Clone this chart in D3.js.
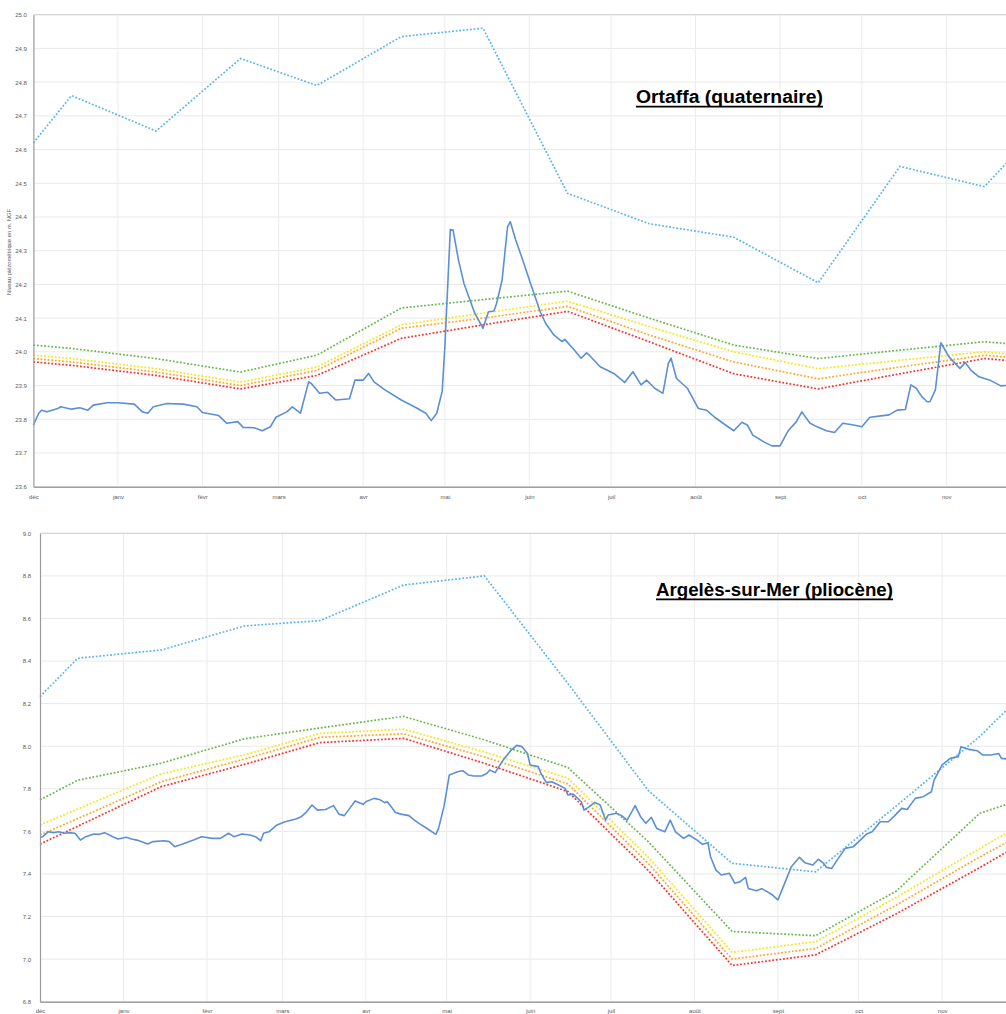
<!DOCTYPE html>
<html><head><meta charset="utf-8">
<script src="https://cdn.jsdelivr.net/npm/d3@7"></script>
<style>html,body{margin:0;padding:0;background:#fff;} svg{display:block;}</style>
</head><body>
<svg id="chart" width="1006" height="1014"></svg>
<script>
// ---------- DATA ----------
const monthLabels = ["janv","févr","mars","avr","mai","juin","juil","août","sept","oct","nov","déc"];
const refDates = ["2022-12-01","2022-12-15","2023-01-15","2023-02-15","2023-03-15","2023-04-15",
  "2023-05-15","2023-06-15","2023-07-15","2023-08-15","2023-09-15","2023-10-15","2023-11-15","2023-11-30"];

// Ortaffa (quaternaire) – reference curves (m NGF)
const ortaffaHigh   = [24.62, 24.76, 24.655, 24.87, 24.79, 24.935, 24.96, 24.47, 24.38, 24.34, 24.205, 24.55, 24.49, 24.62];
const ortaffaGreen  = [24.02, 24.01, 23.98, 23.94, 23.99, 24.13, 24.155, 24.18, 24.10, 24.02, 23.98, 24.005, 24.03, 24.02];
const ortaffaYellow = [23.99, 23.98, 23.95, 23.91, 23.955, 24.08, 24.115, 24.15, 24.075, 24.00, 23.95, 23.975, 24.00, 23.99];
const ortaffaOrange = [23.98, 23.97, 23.94, 23.90, 23.945, 24.07, 24.10, 24.135, 24.05, 23.97, 23.92, 23.955, 23.99, 23.98];
const ortaffaRed    = [23.97, 23.96, 23.93, 23.89, 23.93, 24.04, 24.08, 24.12, 24.03, 23.935, 23.89, 23.935, 23.98, 23.97];

// Ortaffa measured level: days since 1 Dec, value
const ortaffaDays = [0,2,3,5,9,10,14,17,20,22,27,31,37,40,42,44,49,55,60,62,68,71,75,77,81,84,87,89,93,95,98,101,102,105,108,111,116,118,121,123,125,129,135,141,144,146,148,150,151,153,154,156,158,162,165,167,169,170,172,174,175,177,180,182,186,188,191,194,195,198,201,203,204,208,213,216,217,220,223,225,228,231,233,234,236,240,242,244,247,250,254,257,260,262,264,268,271,274,277,280,282,285,288,291,294,297,301,304,307,311,314,317,320,322,324,326,328,329,331,333,336,340,342,344,347,351,355,357];
const ortaffaLevels = [23.783,23.818,23.827,23.822,23.832,23.837,23.830,23.834,23.827,23.842,23.849,23.849,23.845,23.822,23.818,23.837,23.847,23.845,23.837,23.820,23.811,23.788,23.793,23.776,23.775,23.766,23.778,23.806,23.822,23.837,23.818,23.911,23.906,23.877,23.880,23.857,23.861,23.916,23.916,23.936,23.911,23.887,23.857,23.832,23.818,23.796,23.818,23.882,24.015,24.363,24.361,24.272,24.203,24.114,24.070,24.119,24.121,24.144,24.213,24.371,24.386,24.332,24.262,24.213,24.119,24.084,24.050,24.030,24.037,24.010,23.981,23.997,23.990,23.956,23.936,23.916,23.909,23.941,23.902,23.916,23.892,23.877,23.966,23.981,23.921,23.892,23.862,23.832,23.827,23.806,23.783,23.766,23.791,23.783,23.753,23.733,23.721,23.721,23.766,23.793,23.822,23.788,23.776,23.766,23.761,23.788,23.783,23.778,23.806,23.810,23.813,23.827,23.829,23.902,23.892,23.867,23.852,23.852,23.887,24.027,23.985,23.951,23.968,23.946,23.926,23.916,23.899,23.900];

// Argelès-sur-Mer (pliocène) – reference curves
const argelesHigh   = [8.233, 8.413, 8.452, 8.565, 8.59, 8.757, 8.80, 8.295, 7.79, 7.45, 7.41, 7.72, 8.046, 8.233];
const argelesGreen  = [7.748, 7.84, 7.92, 8.035, 8.086, 8.14, 8.03, 7.90, 7.55, 7.13, 7.11, 7.32, 7.685, 7.748];
const argelesYellow = [7.63, 7.705, 7.87, 7.96, 8.06, 8.08, 7.973, 7.85, 7.477, 7.032, 7.082, 7.29, 7.52, 7.63];
const argelesOrange = [7.583, 7.66, 7.833, 7.94, 8.042, 8.058, 7.95, 7.823, 7.448, 7.00, 7.05, 7.254, 7.48, 7.583];
const argelesRed    = [7.54, 7.624, 7.81, 7.915, 8.017, 8.037, 7.92, 7.787, 7.415, 6.97, 7.02, 7.213, 7.43, 7.54];

const argelesDays = [0,1,3,5,7,9,11,13,15,17,20,22,24,27,29,32,34,36,40,42,46,48,50,53,57,60,64,67,70,72,75,78,80,82,83,85,88,91,95,97,99,101,103,106,109,111,113,115,117,120,121,124,126,128,129,132,134,137,139,141,144,147,148,150,152,155,157,159,161,164,166,167,169,172,175,177,179,181,182,185,186,188,190,192,195,196,198,201,202,204,206,208,210,211,214,216,218,221,223,225,227,229,232,234,236,239,241,244,246,248,249,251,253,256,258,260,262,263,266,268,270,272,274,275,277,279,282,284,287,289,291,292,294,296,299,302,304,307,309,312,315,317,320,322,325,328,331,332,335,338,341,342,345,348,350,353,356,357,359];
const argelesLevels = [7.572,7.575,7.598,7.594,7.598,7.591,7.594,7.591,7.559,7.575,7.588,7.586,7.594,7.575,7.564,7.572,7.564,7.559,7.541,7.552,7.556,7.552,7.528,7.541,7.559,7.575,7.567,7.567,7.591,7.575,7.588,7.583,7.575,7.556,7.591,7.598,7.630,7.645,7.658,7.669,7.692,7.724,7.700,7.703,7.721,7.681,7.674,7.708,7.743,7.727,7.739,7.755,7.750,7.735,7.739,7.689,7.681,7.674,7.653,7.635,7.611,7.586,7.614,7.716,7.865,7.880,7.885,7.865,7.860,7.860,7.873,7.888,7.876,7.935,7.982,8.004,7.998,7.966,7.912,7.904,7.873,7.829,7.833,7.821,7.802,7.771,7.775,7.739,7.700,7.716,7.736,7.724,7.653,7.677,7.685,7.674,7.653,7.721,7.669,7.638,7.666,7.614,7.598,7.653,7.598,7.567,7.583,7.559,7.539,7.547,7.481,7.418,7.395,7.403,7.356,7.364,7.384,7.332,7.321,7.331,7.317,7.301,7.278,7.309,7.371,7.434,7.478,7.453,7.442,7.469,7.450,7.431,7.426,7.465,7.520,7.528,7.552,7.588,7.598,7.645,7.645,7.669,7.708,7.703,7.755,7.763,7.786,7.841,7.912,7.943,7.951,7.998,7.985,7.979,7.959,7.959,7.966,7.943,7.940];

// ---------- DRAW ----------
const svg = d3.select("#chart");
const parse = d3.timeParse("%Y-%m-%d");
const start = parse("2022-12-01");
const end = parse("2023-12-01");
const refX = refDates.map(parse);
const colors = {high:"#57b5ee", green:"#66b84c", yellow:"#f5e614", orange:"#ffa625", red:"#f7302c", measured:"#5b8fd6"};

function drawPanel(cfg) {
  const g = svg.append("g");
  const x = d3.scaleTime().domain([start, end]).range([cfg.left, cfg.left + 365 * cfg.pxDay]);
  const y = d3.scaleLinear().domain(cfg.yDomain).range([cfg.bottom, cfg.top]);
  const yTicks = d3.range(cfg.yDomain[0], cfg.yDomain[1] + cfg.step / 2, cfg.step);
  const months = d3.timeMonth.range(start, end);

  // grid
  g.append("g").selectAll("line").data(yTicks).join("line")
    .attr("x1", cfg.left).attr("x2", 1006)
    .attr("y1", d => y(d)).attr("y2", d => y(d))
    .attr("stroke", "#e9e9e9").attr("stroke-width", 1);
  g.append("g").selectAll("line").data(months.slice(1)).join("line")
    .attr("x1", d => x(d)).attr("x2", d => x(d))
    .attr("y1", cfg.top).attr("y2", cfg.bottom)
    .attr("stroke", "#ececec").attr("stroke-width", 1);
  g.append("line").attr("x1", cfg.left).attr("x2", 1006).attr("y1", cfg.top).attr("y2", cfg.top)
    .attr("stroke", "#d6d6d6").attr("stroke-width", 1.2);

  const refLine = d3.line().x((d, i) => x(refX[i])).y(d => y(d));
  const series = [[cfg.green, colors.green], [cfg.yellow, colors.yellow], [cfg.orange, colors.orange], [cfg.red, colors.red], [cfg.high, colors.high]];
  series.forEach(([vals, col]) => {
    g.append("path").attr("d", refLine(vals)).attr("fill", "none")
      .attr("stroke", col).attr("stroke-width", 1.7).attr("stroke-dasharray", "1.8,1.8");
  });

  const mLine = d3.line().x((d, i) => x(d3.timeDay.offset(start, cfg.days[i]))).y(d => y(d));
  g.append("path").attr("d", mLine(cfg.levels)).attr("fill", "none")
    .attr("stroke", colors.measured).attr("stroke-width", 1.6).attr("stroke-linejoin", "round");

  // axes
  const yAxis = d3.axisLeft(y).tickValues(yTicks).tickFormat(d3.format(".1f")).tickSize(0).tickPadding(cfg.yPad);
  const ya = g.append("g").attr("transform", `translate(${cfg.left},0)`).call(yAxis);
  ya.select(".domain").attr("stroke", "#9a9a9a").attr("stroke-width", 1.2);
  ya.selectAll("text").attr("font-size", 6).attr("fill", "#595959").attr("font-family", "Liberation Sans, Arial, sans-serif");

  const xAxis = d3.axisBottom(x).tickValues(months).tickFormat(d => monthLabels[d.getMonth()]).tickSize(0).tickPadding(cfg.xPad);
  const xa = g.append("g").attr("transform", `translate(0,${cfg.bottom})`).call(xAxis);
  xa.select(".domain").attr("stroke", "#a0a0a0").attr("stroke-width", 1.5);
  xa.selectAll("text").attr("font-size", 6).attr("fill", "#595959").attr("font-family", "Liberation Sans, Arial, sans-serif");

  // title
  const t = g.append("text").attr("x", cfg.titleX).attr("y", cfg.titleY).attr("text-anchor", "middle")
    .attr("font-family", "Liberation Sans, Arial, sans-serif").attr("font-weight", "bold").attr("font-size", 18)
    .attr("fill", "#000").attr("textLength", cfg.titleW).attr("lengthAdjust", "spacingAndGlyphs").text(cfg.title);
  g.append("line").attr("x1", cfg.titleX - cfg.titleW / 2).attr("x2", cfg.titleX + cfg.titleW / 2)
    .attr("y1", cfg.titleY + 3.3).attr("y2", cfg.titleY + 3.3).attr("stroke", "#000").attr("stroke-width", 1.8);

  if (cfg.yTitle) {
    g.append("text").attr("transform", `translate(11,${cfg.yTitleY}) rotate(-90)`).attr("text-anchor", "middle")
      .attr("font-family", "Liberation Sans, Arial, sans-serif").attr("font-size", 5.8).attr("fill", "#595959")
      .text(cfg.yTitle);
  }
}

drawPanel({left: 33.4, pxDay: 2.725, top: 14.7, bottom: 486.7, yDomain: [23.6, 25.0], step: 0.1,
  yPad: 6.5, xPad: 8, high: ortaffaHigh, green: ortaffaGreen, yellow: ortaffaYellow, orange: ortaffaOrange, red: ortaffaRed,
  days: ortaffaDays, levels: ortaffaLevels, title: "Ortaffa (quaternaire)", titleX: 729.5, titleY: 103.3, titleW: 187,
  yTitle: "Niveau piézométrique en m. NGF", yTitleY: 252});

drawPanel({left: 40, pxDay: 2.693, top: 533.3, bottom: 1001.7, yDomain: [6.8, 9.0], step: 0.2,
  yPad: 9, xPad: 7, high: argelesHigh, green: argelesGreen, yellow: argelesYellow, orange: argelesOrange, red: argelesRed,
  days: argelesDays, levels: argelesLevels, title: "Argelès-sur-Mer (pliocène)", titleX: 774.5, titleY: 596, titleW: 237});
</script>
</body></html>
